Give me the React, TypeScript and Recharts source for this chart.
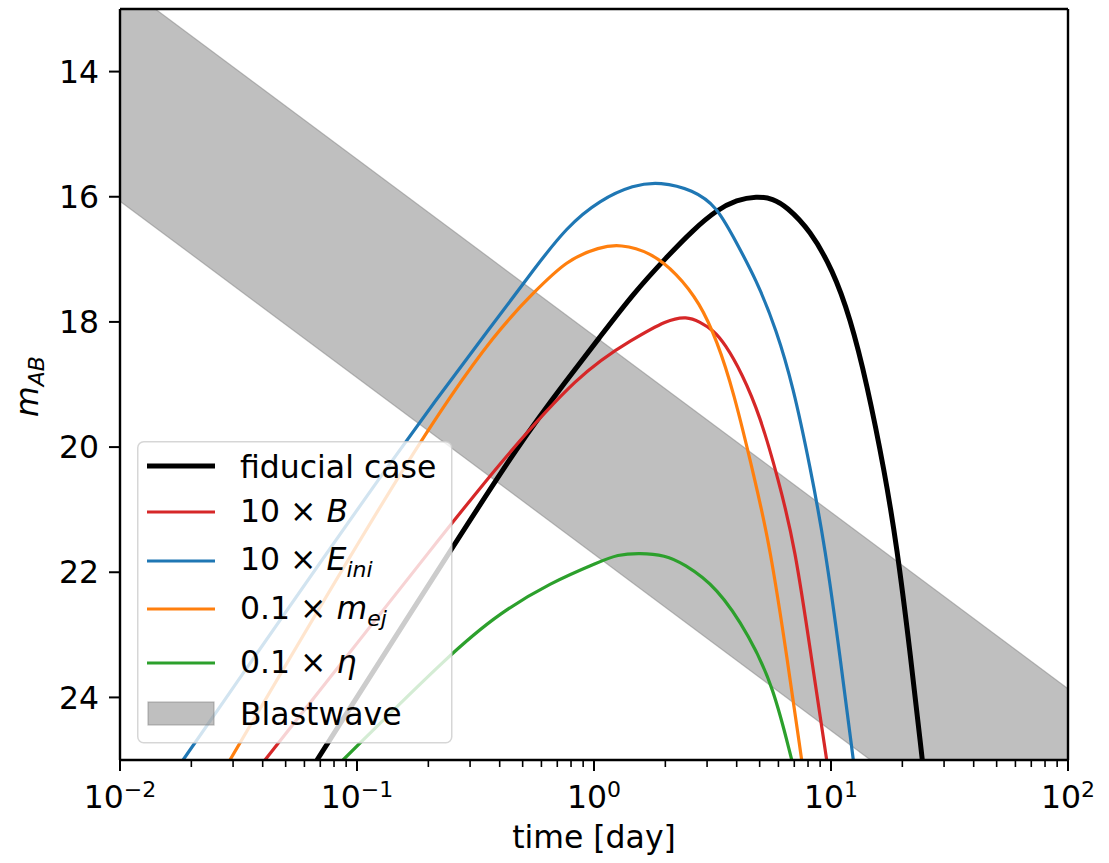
import { ComposedChart, Area, Line, XAxis, YAxis, Legend, Label } from "recharts";

const FONT = '"DejaVu Sans", sans-serif';
const FS = 31.5;
const SUB = 22;

// blastwave band: straight in log-log, values read at both ends of the time axis
const bandTime = [0.01, 100];
const bandBright = [12.58, 23.86];
const bandFaint = [16.07, 27.35];

const fiducialTime = [0.0678, 0.254, 0.487, 0.767, 1.06, 1.47, 2.03, 2.62, 3.3, 4.0, 4.85, 5.7, 6.5, 8.15, 10.2, 12.03, 14.15, 16.9, 18.93, 21.54, 24.28];
const fiducialMag = [25.0, 21.59, 19.93, 18.93, 18.24, 17.54, 16.96, 16.53, 16.21, 16.05, 15.99, 16.03, 16.16, 16.53, 17.18, 17.93, 18.97, 20.43, 21.57, 23.25, 25.0];

const bTime = [0.0409, 0.254, 0.39, 0.873, 1.47, 2.03, 2.46, 2.8, 3.18, 3.57, 4.21, 5.02, 5.98, 7.05, 8.29, 9.59];
const bMag = [25.0, 21.19, 20.31, 18.8, 18.27, 17.97, 17.91, 18.0, 18.13, 18.35, 18.82, 19.5, 20.5, 21.59, 23.4, 25.0];

const eTime = [0.01845, 0.163, 0.401, 0.555, 0.767, 1.06, 1.47, 1.9, 2.62, 3.3, 3.87, 4.85, 5.89, 6.93, 8.15, 9.44, 10.97, 12.42];
const eMag = [25.0, 19.83, 17.89, 17.17, 16.48, 16.05, 15.81, 15.76, 15.89, 16.16, 16.64, 17.33, 18.13, 19.04, 20.3, 21.59, 23.4, 25.0];

const mejTime = [0.0291, 0.1845, 0.401, 0.555, 0.767, 1.06, 1.29, 1.72, 2.23, 2.8, 3.3, 3.87, 4.78, 5.53, 6.55, 7.52];
const mejMag = [25.0, 19.83, 18.08, 17.54, 17.01, 16.8, 16.76, 16.88, 17.22, 17.7, 18.3, 19.09, 20.53, 21.59, 23.4, 25.0];

const etaTime = [0.0873, 0.252, 0.401, 0.652, 1.06, 1.25, 1.56, 2.0, 2.38, 3.3, 4.55, 5.71, 6.83];
const etaMag = [25.0, 23.27, 22.65, 22.17, 21.83, 21.72, 21.69, 21.73, 21.86, 22.23, 23.03, 23.83, 25.0];

const xMajorTicks = [0.01, 0.1, 1, 10, 100];
const xMinorTicks = [
  0.02, 0.03, 0.04, 0.05, 0.06, 0.07, 0.08, 0.09,
  0.2, 0.3, 0.4, 0.5, 0.6, 0.7, 0.8, 0.9,
  2, 3, 4, 5, 6, 7, 8, 9,
  20, 30, 40, 50, 60, 70, 80, 90,
];
const xAllTicks = [...xMajorTicks, ...xMinorTicks].sort((a, b) => a - b);
const yTicks = [14, 16, 18, 20, 22, 24];

const toPoints = (time: number[], mag: number[]) => time.map((t, i) => ({ t, m: mag[i] }));
const bandData = bandTime.map((t, i) => ({ t, band: [bandFaint[i], bandBright[i]] }));

const series = [
  { key: "fiducial", time: fiducialTime, mag: fiducialMag, color: "#000000", width: 5 },
  { key: "B", time: bTime, mag: bMag, color: "#d62728", width: 3.2 },
  { key: "E", time: eTime, mag: eMag, color: "#1f77b4", width: 3.2 },
  { key: "mej", time: mejTime, mag: mejMag, color: "#ff7f0e", width: 3.2 },
  { key: "eta", time: etaTime, mag: etaMag, color: "#2ca02c", width: 3.2 },
];

const it = { fontStyle: "italic" as const };

const legendLabels: Record<string, JSX.Element> = {
  fiducial: <>fiducial case</>,
  B: (
    <>
      10 × <tspan {...it}>B</tspan>
    </>
  ),
  E: (
    <>
      10 × <tspan {...it}>E</tspan>
      <tspan {...it} fontSize={SUB} dy={7}>ini</tspan>
    </>
  ),
  mej: (
    <>
      0.1 × <tspan {...it}>m</tspan>
      <tspan {...it} fontSize={SUB} dy={7}>ej</tspan>
    </>
  ),
  eta: (
    <>
      0.1 × <tspan {...it}>η</tspan>
    </>
  ),
};

const legendRows = [
  { key: "fiducial", y: 25, base: 37 },
  { key: "B", y: 71, base: 81 },
  { key: "E", y: 120, base: 129 },
  { key: "mej", y: 168, base: 178 },
  { key: "eta", y: 222, base: 232 },
];

const LegendBox = () => (
  <svg width={316} height={303} style={{ display: "block" }}>
    <rect x={0.75} y={0.75} width={314} height={301} rx={6} fill="#fff" fillOpacity={0.8} stroke="#cccccc" strokeOpacity={0.8} strokeWidth={1.5} />
    {legendRows.map((row) => {
      const s = series.find((d) => d.key === row.key)!;
      return (
        <g key={row.key}>
          <line x1={10} x2={78} y1={row.y} y2={row.y} stroke={s.color} strokeWidth={s.width} />
          <text x={103} y={row.base} fontFamily={FONT} fontSize={FS} fill="#000">
            {legendLabels[row.key]}
          </text>
        </g>
      );
    })}
    <rect x={11} y={261} width={66} height={23} fill="#808080" fillOpacity={0.5} stroke="#808080" strokeOpacity={0.5} strokeWidth={1.2} />
    <text x={103} y={284} fontFamily={FONT} fontSize={FS} fill="#000">
      Blastwave
    </text>
  </svg>
);

// draws both the tick mark and, for decades, the 10^n label
const LogTick = ({ x, y, payload }: any) => {
  const v = payload.value;
  const major = xMajorTicks.some((d) => Math.abs(d - v) / d < 1e-6);
  if (!major) {
    return <line x1={x} x2={x} y1={y} y2={y + 7} stroke="#000" strokeWidth={1.6} />;
  }
  const exp = Math.round(Math.log10(v));
  return (
    <g>
      <line x1={x} x2={x} y1={y} y2={y + 11} stroke="#000" strokeWidth={2} />
      <text x={x} y={y + 48} textAnchor="middle" fontFamily={FONT} fontSize={FS} fill="#000">
        10
        <tspan dy={-11} fontSize={SUB}>
          {exp < 0 ? `\u2212${-exp}` : `${exp}`}
        </tspan>
      </text>
    </g>
  );
};

const XTitle = ({ viewBox }: any) => {
  const cx = viewBox ? viewBox.x + viewBox.width / 2 : 594;
  return (
    <text x={cx} y={848} textAnchor="middle" fontFamily={FONT} fontSize={FS} fill="#000">
      time [day]
    </text>
  );
};

const YTitle = ({ viewBox }: any) => {
  const cx = 38;
  const cy = viewBox ? viewBox.y + viewBox.height / 2 + 2 : 386;
  return (
    <text x={cx} y={cy} transform={`rotate(-90 ${cx} ${cy})`} textAnchor="middle" fontFamily={FONT} fontSize={FS} fill="#000">
      <tspan {...it}>m</tspan>
      <tspan {...it} fontSize={SUB} dy={6}>AB</tspan>
    </text>
  );
};

const axisLine = { stroke: "#000", strokeWidth: 2.4 };
const tickLine = { stroke: "#000", strokeWidth: 2 };

const App = () => {
  return (
    <div style={{ position: "absolute", left: 0, top: 0, background: "#fff" }}>
      <ComposedChart width={1109} height={863} data={bandData} margin={{ top: 8, right: 40, bottom: 43, left: 40 }}>
        <XAxis
          dataKey="t"
          type="number"
          scale="log"
          domain={[0.01, 100]}
          allowDataOverflow
          ticks={xAllTicks}
          interval={0}
          tick={<LogTick />}
          tickSize={0}
          tickMargin={0}
          tickLine={false}
          axisLine={axisLine}
          height={60}
        >
          <Label content={<XTitle />} />
        </XAxis>
        <XAxis
          xAxisId="top"
          orientation="top"
          dataKey="t"
          type="number"
          scale="log"
          domain={[0.01, 100]}
          allowDataOverflow
          ticks={xMajorTicks}
          tick={false}
          tickLine={false}
          axisLine={axisLine}
          height={1}
        />
        <YAxis
          type="number"
          domain={[13, 25]}
          reversed
          allowDataOverflow
          ticks={yTicks}
          interval={0}
          tickSize={11}
          tickMargin={10}
          tickLine={tickLine}
          axisLine={axisLine}
          tick={{ fontSize: FS, fill: "#000", fontFamily: FONT }}
          width={80}
        >
          <Label content={<YTitle />} />
        </YAxis>
        <YAxis
          yAxisId="right"
          orientation="right"
          type="number"
          domain={[13, 25]}
          reversed
          allowDataOverflow
          ticks={yTicks}
          tick={false}
          tickLine={false}
          axisLine={axisLine}
          width={1}
        />
        <Area
          dataKey="band"
          type="linear"
          fill="#808080"
          fillOpacity={0.5}
          stroke="#808080"
          strokeOpacity={0.5}
          strokeWidth={1.2}
          isAnimationActive={false}
        />
        {series.map((s) => (
          <Line
            key={s.key}
            data={toPoints(s.time, s.mag)}
            dataKey="m"
            type="basis"
            stroke={s.color}
            strokeWidth={s.width}
            dot={false}
            activeDot={false}
            isAnimationActive={false}
          />
        ))}
        <Legend
          layout="vertical"
          align="center"
          verticalAlign="middle"
          content={() => <LegendBox />}
          wrapperStyle={{ left: 137, top: 441, width: 316, height: 303 }}
        />
      </ComposedChart>
    </div>
  );
};

export default App;
